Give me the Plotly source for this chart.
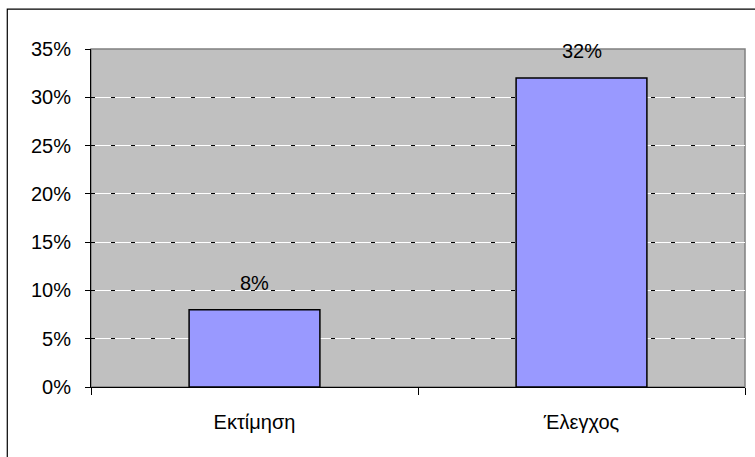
import plotly.graph_objects as go

categories = ["Εκτίμηση", "Έλεγχος"]
values = [0.08, 0.32]
y_ticks = [0, 0.05, 0.10, 0.15, 0.20, 0.25, 0.30, 0.35]
y_ticklabels = ["0%", "5%", "10%", "15%", "20%", "25%", "30%", "35%"]

FONT = "Liberation Sans, Arial, sans-serif"
FS = 20

fig = go.Figure()
fig.add_trace(go.Bar(
    x=categories, y=values,
    marker=dict(color="#9999FF", line=dict(color="black", width=1.5)),
    hoverinfo="skip",
))
# invisible trace for the overlay grid axis (black dashes over white grid)
fig.add_trace(go.Scatter(x=categories, y=values, yaxis="y2", mode="markers",
                         marker=dict(opacity=0), hoverinfo="skip", showlegend=False))

for c, v in zip(categories, values):
    fig.add_annotation(x=c, y=v, text=f"{round(v*100)}%", showarrow=False,
                       yanchor="middle", yshift=27,
                       font=dict(family=FONT, size=FS, color="black"))

fig.update_layout(
    width=755, height=457,
    margin=dict(l=91, r=10, t=49, b=70),
    paper_bgcolor="white", plot_bgcolor="#C0C0C0",
    showlegend=False,
    bargap=0.6,
    font=dict(family=FONT, size=FS, color="black"),
    xaxis=dict(showline=True, linecolor="black", linewidth=1,
               ticks="outside", tickson="boundaries", ticklen=7, tickcolor="black",
               showgrid=False, tickfont=dict(size=FS), ticklabelstandoff=17),
    yaxis=dict(range=[0, 0.35], tickvals=y_ticks, ticktext=y_ticklabels,
               showline=True, linecolor="black", linewidth=1,
               ticks="outside", ticklen=5, tickcolor="black",
               showgrid=True, gridcolor="white", gridwidth=1,
               zeroline=False, tickfont=dict(size=FS), ticklabelstandoff=10),
    yaxis2=dict(range=[0, 0.35], tickvals=y_ticks, overlaying="y",
                showticklabels=False, showline=False, ticks="",
                showgrid=True, gridcolor="black", gridwidth=1,
                griddash="4px,16px", zeroline=False),
    shapes=[
        dict(type="rect", xref="x domain", yref="y domain", x0=0, x1=1, y0=0, y1=1,
             line=dict(color="#808080", width=1.5), layer="below"),
        dict(type="rect", xref="paper", yref="paper", x0=-0.128, x1=1.3, y0=-0.5, y1=1.118,
             line=dict(color="black", width=1.2), layer="below"),
    ],
)

fig.write_html("out.html", config={"displayModeBar": False},
               post_script="document.body.style.margin='0px';")
